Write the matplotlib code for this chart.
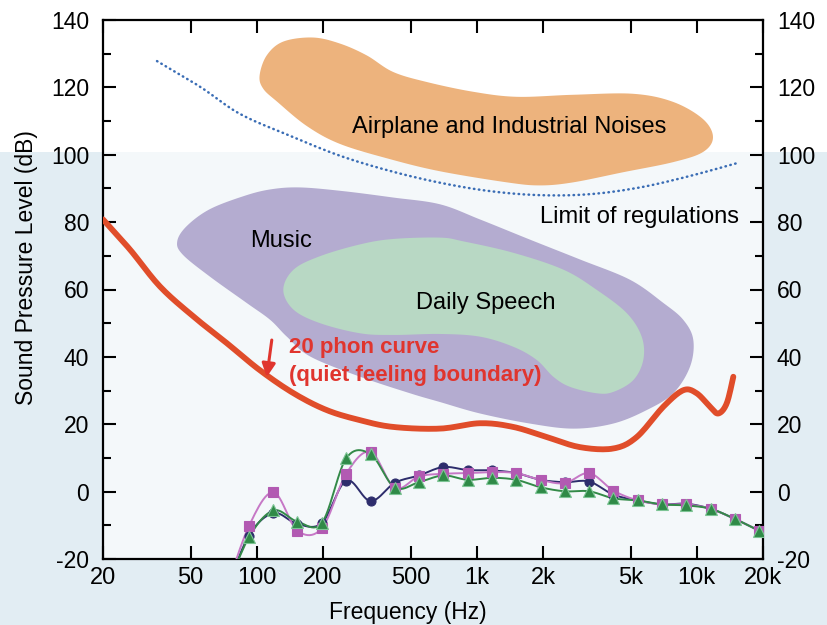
import numpy as np
import matplotlib
matplotlib.use("Agg")
import matplotlib.pyplot as plt
from matplotlib import font_manager
from matplotlib.patches import Polygon, Rectangle
from matplotlib.ticker import FixedLocator, NullLocator, MultipleLocator

# --- data (frequency in Hz, level in dB) ---
phon20_freq = [20, 26.5, 36.3, 51.5, 73, 103, 147, 208, 295, 417, 680, 1034, 1466,
               2078, 2946, 4174, 5334, 7046, 8684, 9990, 11480, 12530, 13680, 14660]
phon20_db = [80.8, 71.9, 60.9, 52.0, 44.1, 36.1, 29.2, 24.2, 21.2, 19.2, 18.7, 20.3, 19.2,
             16.2, 13.2, 12.8, 16.2, 25.2, 30.1, 29.2, 25.2, 23.2, 26.2, 34.1]

limit_freq = [35.2, 55.2, 84, 142, 239, 403, 680, 1148, 1938, 3272, 5520, 9318, 15600]
limit_db = [127.8, 120.2, 112.1, 105.6, 99.7, 95.2, 91.7, 89.2, 88.0, 88.3, 90.3, 93.7, 97.7]

noise_freq = [103, 111, 132, 180, 239, 316, 416, 592, 962, 1519, 2738, 5130, 7800, 10670,
              11850, 10670, 7800, 4620, 2738, 1938, 1372, 680, 403, 239, 169, 124, 107]
noise_db = [123.5, 129.5, 133.6, 134.8, 133.0, 129.5, 124.6, 121.6, 118.7, 117.2, 117.8,
            118.1, 115.7, 110.6, 105.2, 100.8, 97.8, 94.8, 91.8, 90.9, 91.8, 95.1, 98.7,
            103.2, 108.5, 115.7, 119.6]

music_freq = [43.5, 48, 61, 87, 115, 157, 247, 417, 680, 1034, 1746, 2950, 4970, 7050,
              8680, 9640, 9320, 7820, 5920, 4170, 2750, 1746, 1034, 680, 497, 295, 175,
              137, 115, 90, 61, 46]
music_db = [74.3, 78.8, 83.8, 87.7, 89.7, 90.3, 89.2, 87.3, 85.3, 80.8, 74.8, 68.9, 62.9,
            56.0, 51.0, 45.1, 37.1, 29.2, 24.2, 20.2, 18.7, 20.2, 23.2, 26.6, 29.2, 34.1,
            40.1, 46.0, 51.0, 56.0, 63.9, 70.4]

speech_freq = [132, 147, 194, 295, 417, 680, 868, 1466, 2474, 3508, 4804, 5618, 5714, 5146,
               4174, 3508, 2654, 2228, 1872, 1466, 1034, 680, 417, 295, 194, 147]
speech_db = [59.9, 65.9, 69.9, 73.4, 75.0, 75.4, 74.3, 70.9, 65.9, 59.9, 53.0, 46.0, 39.1,
             33.1, 29.6, 29.2, 31.1, 34.1, 39.1, 43.0, 46.0, 46.8, 46.5, 47.0, 50.0, 54.0]

band_freq = [92, 119, 153, 198, 255, 329, 424, 546, 705, 909, 1170, 1510, 1950, 2510,
             3240, 4180, 5390, 6950, 8960, 11560, 14900, 19200]
fan_a = [-13.1, -6.4, -9.6, -9.3, 3.3, -2.8, 2.6, 4.8, 7.3, 6.4, 6.3, 5.5, 3.5, 2.8, 3.0,
         -0.9, -2.6, -3.8, -3.6, -5.1, -8.1, -11.6]
fan_b = [-10.3, -0.2, -11.6, -10.8, 5.3, 11.8, 1.1, 4.5, 5.3, 5.5, 5.8, 5.5, 3.5, 2.5, 5.5,
         0.3, -2.6, -3.8, -3.8, -5.1, -8.1, -11.6]
fan_c = [-13.6, -5.6, -8.9, -9.2, 9.9, 11.1, 1.2, 2.8, 4.8, 3.5, 4.1, 3.5, 1.3, 0.1, 0.1,
         -2.0, -2.6, -3.8, -4.1, -5.1, -8.1, -11.6]
lead_freq, lead_db = 72, -30

xticks = [20, 50, 100, 200, 500, 1000, 2000, 5000, 10000, 20000]
xticklabels = ["20", "50", "100", "200", "500", "1k", "2k", "5k", "10k", "20k"]


def smooth(xs, ys, closed=False, n=12):
    # Catmull-Rom through the points, in log-frequency space
    p = np.column_stack([np.log10(xs), ys])
    if closed:
        p = np.vstack([p[-1], p, p[0], p[1]])
    else:
        p = np.vstack([p[0], p, p[-1]])
    t = np.linspace(0, 1, n, endpoint=False)[:, None]
    out = []
    for i in range(1, len(p) - 2):
        p0, p1, p2, p3 = p[i - 1], p[i], p[i + 1], p[i + 2]
        out.append(0.5 * (2 * p1 + (p2 - p0) * t + (2 * p0 - 5 * p1 + 4 * p2 - p3) * t ** 2
                          + (3 * p1 - p0 - 3 * p2 + p3) * t ** 3))
    out.append(p[-2][None])
    s = np.vstack(out)
    return 10 ** s[:, 0], s[:, 1]


names = {f.name for f in font_manager.fontManager.ttflist}
base = "Liberation Sans" if "Liberation Sans" in names else "DejaVu Sans"
plt.rcParams["font.family"] = [base, "DejaVu Sans"]
plt.rcParams["axes.unicode_minus"] = False

fig = plt.figure(figsize=(8.27, 6.25), dpi=100)
fig.patch.set_facecolor("#e2edf3")
# background bands
fig.add_artist(Rectangle((0, 1 - 152 / 625), 1, 152 / 625, transform=fig.transFigure,
                         facecolor="white", edgecolor="none", zorder=-10))
ax = fig.add_axes([103 / 827, 1 - 559 / 625, 660 / 827, 539 / 625])
ax.set_facecolor("none")
fig.add_artist(Rectangle((103 / 827, 1 - 559 / 625), 660 / 827, (559 - 152) / 625,
                         transform=fig.transFigure, facecolor="#f4f8fa", edgecolor="none",
                         zorder=-9))

ax.set_xscale("log")
ax.set_xlim(20, 20000)
ax.set_ylim(-20, 140)

# regions
for fx, fy, col in [(noise_freq, noise_db, "#edb37d"),
                    (music_freq, music_db, "#b4acd0"),
                    (speech_freq, speech_db, "#b8d8c4")]:
    sx, sy = smooth(fx, fy, closed=True)
    ax.add_patch(Polygon(np.column_stack([sx, sy]), closed=True, facecolor=col,
                         edgecolor="none", zorder=1))

sx, sy = smooth(limit_freq, limit_db)
ax.plot(sx, sy, color="#3a6db5", lw=1.8, linestyle=(0, (0.2, 1.8)),
        dash_capstyle="round", zorder=2)

sx, sy = smooth(phon20_freq, phon20_db)
ax.plot(sx, sy, color="#e04d2a", lw=4.2, solid_capstyle="round", zorder=3)

series = [(fan_a, "#2d2d6c", "#2d2d6c", "o", 6.5, "#2d2d6c"),
          (fan_b, "#c678c6", "#b25ab2", "s", 6.5, "#b25ab2"),
          (fan_c, "#338a48", "#2f8a47", "^", 8, "#7cc494")]
for vals, lcol, mcol, mk, ms, mec in series:
    sx, sy = smooth([lead_freq] + band_freq, [lead_db] + vals)
    ax.plot(sx, sy, color=lcol, lw=1.4, zorder=4)
    ax.plot(band_freq, vals, linestyle="none", marker=mk, ms=ms, color=mcol,
            mec=mec, mew=0.8, zorder=5)

# labels
ax.text(1400, 108.1, "Airplane and Industrial Noises", fontsize=17, ha="center",
        va="center", zorder=6)
ax.text(5500, 81.6, "Limit of regulations", fontsize=17, ha="center", va="center", zorder=6)
ax.text(93, 74.5, "Music", fontsize=17, ha="left", va="center", zorder=6)
ax.text(1100, 56.0, "Daily Speech", fontsize=17, ha="center", va="center", zorder=6)
ax.text(140, 38.6, "20 phon curve\n(quiet feeling boundary)", fontsize=16,
        fontweight="bold", color="#e0352e", ha="left", va="center", linespacing=1.4,
        zorder=6)
ax.annotate("", xy=(111, 34.0), xytext=(117, 45.0),
            arrowprops=dict(arrowstyle="-|>", color="#e0352e", lw=2.2,
                            mutation_scale=20, shrinkA=0, shrinkB=0), zorder=6)

# axes styling
ax.xaxis.set_major_locator(FixedLocator(xticks))
ax.set_xticklabels(xticklabels, fontsize=17)
ax.xaxis.set_minor_locator(NullLocator())
ax.yaxis.set_major_locator(MultipleLocator(20))
ax.yaxis.set_minor_locator(MultipleLocator(10))
ax.tick_params(axis="both", which="both", direction="in", top=True, right=True,
               width=1.5, color="black")
ax.tick_params(axis="both", which="major", length=9.5)
ax.tick_params(axis="y", which="minor", length=6)
ax.tick_params(axis="y", labelsize=16.5, pad=10, labelright=True)
ax.tick_params(axis="x", pad=6)
for sp in ax.spines.values():
    sp.set_linewidth(1.6)

ax.set_ylabel("Sound Pressure Level (dB)", fontsize=16.5)
ax.yaxis.set_label_coords(-0.098, 0.54)
ax.set_xlabel("Frequency (Hz)", fontsize=16.5)
ax.xaxis.set_label_coords(0.462, -0.078)

fig.savefig("out.png", dpi=100, facecolor=fig.get_facecolor())
